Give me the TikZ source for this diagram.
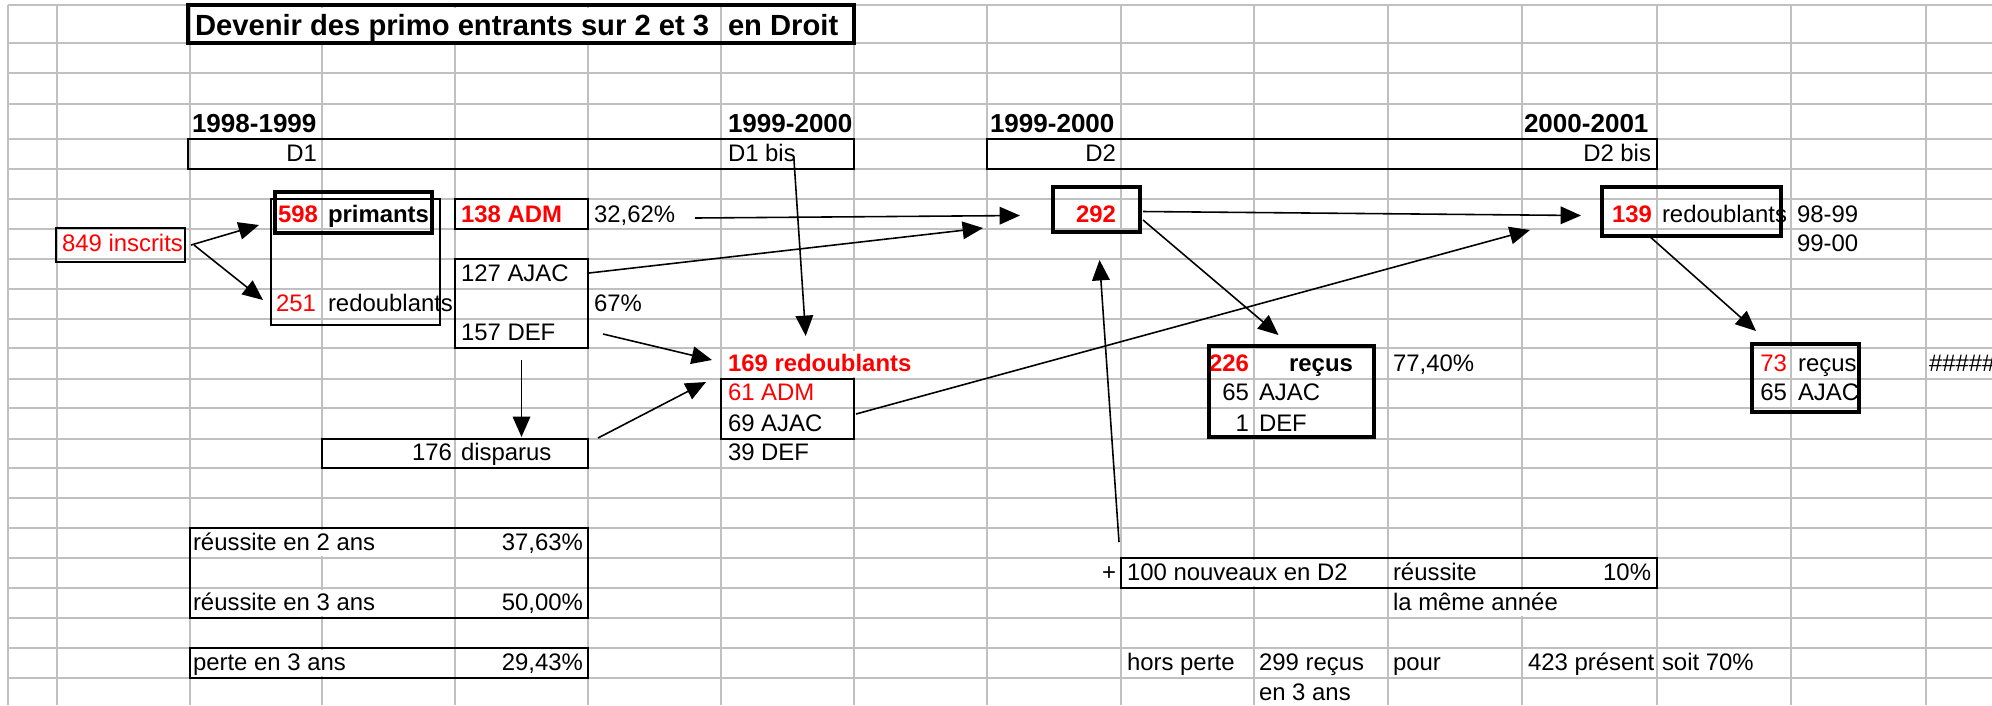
\documentclass[tikz,border=0pt]{standalone}
\usepackage{fontspec}
\setmainfont{Liberation Sans}
\usetikzlibrary{arrows.meta, calc, fit}
\definecolor{Rouge}{HTML}{FF0000}
\definecolor{Grille}{HTML}{C0C0C0}
\newcommand{\corps}{\fontsize{6.8}{8}\selectfont}
\newcommand{\annees}{\fontsize{7.4}{9}\selectfont\bfseries}
\newcommand{\titrefont}{\fontsize{8.3}{10}\selectfont\bfseries}
\tikzset{
    grille/.style={draw=Grille, line width=0.45pt},
    cellule/.style={inner sep=0pt, outer sep=0pt, text height=0.2cm, text depth=0.06cm, fill=white, font=\corps},
    gauche/.style={cellule, anchor=base west},
    droite/.style={cellule, anchor=base east},
    centre/.style={cellule, anchor=base},
    gras/.style={font=\corps\bfseries},
    rouge/.style={text=Rouge},
    titre/.style={gauche, font=\titrefont, text height=0.27cm},
    annee/.style={gauche, font=\annees},
    boite/.style={draw, line width=0.5pt, inner sep=0pt, outer sep=0pt},
    boitemoy/.style={boite, line width=0.65pt},
    boiteepaisse/.style={boite, line width=0.95pt},
    fleche/.style={-{Triangle[length=5.8pt, width=5pt]}, line width=0.45pt},
}

\begin{document}
\begin{tikzpicture}[x=0.01cm, y=-0.01cm]
    \useasboundingbox (0,0) rectangle (1992,705);
    \fill[white] (0,0) rectangle (1992,705);
    \clip (0,0) rectangle (1992,705);

    % Grille du tableur
    \foreach \y in {5,43,73,104,139,169,199,229,259,289,319,348,379,408,439,468,498,528,558,588,618,648,678,708}
        \draw[grille] (8,\y) -- (1992,\y);
    \foreach \x in {8,57,190,322,455,588,721,854,987,1121,1254,1388,1522,1657,1791,1926}
        \draw[grille] (\x,5) -- (\x,705);

    % Titre et annees
    \node[titre] (tTitre) at (195,35) {Devenir des primo entrants sur 2 et 3};
    \node[titre] (tDroit) at (728,35) {en Droit};
    \node[annee] (y1) at (192,132) {1998-1999};
    \node[annee] (y2) at (728,132) {1999-2000};
    \node[annee] (y3) at (990,132) {1999-2000};
    \node[annee] (y4) at (1524,132) {2000-2001};
    \node[droite] (tD1) at (317,161) {D1};
    \node[gauche] (tD1bis) at (728,161) {D1 bis};
    \node[droite] (tD2) at (1116,161) {D2};
    \node[droite] (tD2bis) at (1651,161) {D2 bis};

    % Premiere annee D1
    \node[gauche, rouge] (tInscrits) at (62,251) {849 inscrits};
    \node[droite, gras, rouge] (t598) at (318,222) {598};
    \node[gauche, gras] (tPrim) at (328,222) {primants};
    \node[droite, rouge] (t251) at (316,311) {251};
    \node[gauche] (tRed1) at (328,311) {redoublants};
    \node[gauche, gras, rouge] (tAdm) at (461,222) {138 ADM};
    \node[gauche] (tPct1) at (594,222) {32,62\%};
    \node[gauche] (tAjac1) at (461,281) {127 AJAC};
    \node[gauche] (tPct2) at (594,311) {67\%};
    \node[gauche] (tDef1) at (461,340) {157 DEF};
    \node[droite] (t176) at (452,460) {176};
    \node[gauche] (tDisp) at (461,460) {disparus};

    % D1 bis
    \node[gauche, gras, rouge] (t169) at (728,371) {169 redoublants};
    \node[gauche, rouge] (t61) at (728,400) {61 ADM};
    \node[gauche] (t69) at (728,431) {69 AJAC};
    \node[gauche] (t39) at (728,460) {39 DEF};

    % D2
    \node[droite, gras, rouge] (t292) at (1116,222) {292};
    \node[droite, gras, rouge] (t226) at (1249,371) {226};
    \node[centre, gras] (tRecus1) at (1321,371) {reçus};
    \node[gauche] (tPct3) at (1393,371) {77,40\%};
    \node[droite] (t65a) at (1249,400) {65};
    \node[gauche] (tAjac2) at (1259,400) {AJAC};
    \node[droite] (t1) at (1249,431) {1};
    \node[gauche] (tDef2) at (1259,431) {DEF};

    % D2 bis
    \node[droite, gras, rouge] (t139) at (1652,222) {139};
    \node[gauche] (tRed2) at (1662,222) {redoublants};
    \node[gauche] (t9899) at (1797,222) {98-99};
    \node[gauche] (t9900) at (1797,251) {99-00};
    \node[droite, rouge] (t73) at (1787,371) {73};
    \node[gauche] (tRecus2) at (1798,371) {reçus};
    \node[droite] (t65b) at (1787,400) {65};
    \node[gauche] (tAjac3) at (1798,400) {AJAC};
    \node[gauche] (tDiese) at (1929,371) {\#\#\#\#\#};

    % Bilans
    \node[gauche] (tReu2) at (193,550) {réussite en 2 ans};
    \node[droite] (tPct4) at (583,550) {37,63\%};
    \node[gauche] (tReu3) at (193,610) {réussite en 3 ans};
    \node[droite] (tPct6) at (583,610) {50,00\%};
    \node[gauche] (tPerte) at (193,670) {perte en 3 ans};
    \node[droite] (tPct7) at (583,670) {29,43\%};
    \node[droite] (tPlus) at (1116,580) {+};
    \node[gauche] (tNouv) at (1127,580) {100 nouveaux en D2};
    \node[gauche] (tReu) at (1393,580) {réussite};
    \node[droite] (tPct5) at (1651,580) {10\%};
    \node[gauche] (tMeme) at (1393,610) {la même année};
    \node[gauche] (tHors) at (1127,670) {hors perte};
    \node[gauche] (t299) at (1259,670) {299 reçus};
    \node[gauche] (tEn3) at (1259,700) {en 3 ans};
    \node[gauche] (tPour) at (1393,670) {pour};
    \node[gauche] (t423) at (1528,670) {423 présent};
    \node[gauche] (tSoit) at (1662,670) {soit 70\%};

    % Cadres
    \node[boiteepaisse, fit={(188,5) (854,43)}] (bTitre) {};
    \node[boitemoy, fit={(188,139) (854,169)}] (bD) {};
    \node[boitemoy, fit={(987,139) (1657,169)}] (bD2) {};
    \node[boite, fit={(56,228) (185,262)}] (bInscrits) {};
    \node[boite, fit={(271,199) (440,325)}] (bGroupe) {};
    \node[boiteepaisse, fit={(275,192) (432,233)}] (bPrim) {};
    \node[boite, fit={(455,199) (588,229)}] (bAdm) {};
    \node[boite, fit={(455,259) (588,348)}] (bAjDef) {};
    \node[boite, fit={(322,439) (588,468)}] (bDisp) {};
    \node[boite, fit={(721,379) (854,439)}] (bRed) {};
    \node[boiteepaisse, fit={(1053,187) (1140,232)}] (b292) {};
    \node[boiteepaisse, fit={(1602,187) (1781,236)}] (b139) {};
    \node[boiteepaisse, fit={(1209,346) (1374,437)}] (b226) {};
    \node[boiteepaisse, fit={(1752,344) (1859,412)}] (b73) {};
    \node[boite, fit={(190,528) (588,618)}] (bReu) {};
    \node[boite, fit={(190,648) (588,678)}] (bPerte) {};
    \node[boite, fit={(1121,558) (1657,588)}] (bNouv) {};

    % Fleches
    \draw[fleche] ($(bInscrits.east)+(6,0)$) -- ($(bPrim.south west)+(-16,-8)$);
    \draw[fleche] ($(bInscrits.east)+(9,0)$) -- ($(bGroupe.west)+(-8,38)$);
    \draw[fleche] ($(tPct1.east)+(20,3)$) -- ($(b292.west)+(-33,6)$);
    \draw[fleche] ($(bAjDef.north east)+(1,14)$) -- ($(b292.south west)+(-70,-4)$);
    \draw[fleche] ($(bAjDef.south east)+(15,-14)$) -- ($(t169.west)+(-16,-4)$);
    \draw[fleche] ($(bAjDef.south)+(0,12)$) -- ($(bAjDef.south |- bDisp.north)+(0,-2)$);
    \draw[fleche] ($(bDisp.north east)+(10,-1)$) -- ($(bRed.north west)+(-15,3)$);
    \draw[fleche] ($(tD1bis.east)+(-2,3)$) -- ($(t169.north)+(-14,-15)$);
    \draw[fleche] ($(b292.east)+(3,2)$) -- ($(b139.west)+(-21,4)$);
    \draw[fleche] ($(bRed.east)+(2,5)$) -- ($(b139.south west)+(-72,-6)$);
    \draw[fleche] ($(b292.south east)+(3,-12)$) -- ($(b226.north)+(-13,-11)$);
    \draw[fleche] ($(bNouv.north west)+(-2,-16)$) -- ($(b292.south)+(3,28)$);
    \draw[fleche] ($(b139.south west)+(46,-1)$) -- ($(b73.north west)+(4,-13)$);
\end{tikzpicture}
\end{document}
